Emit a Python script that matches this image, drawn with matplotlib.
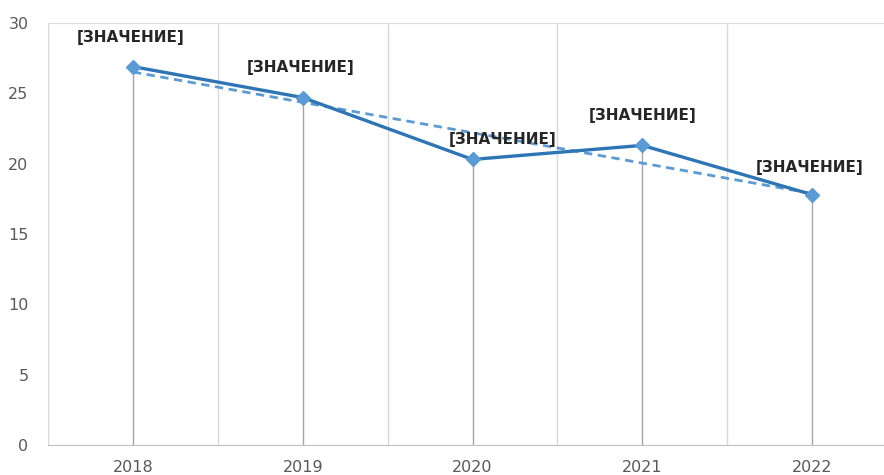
import numpy as np
import matplotlib.pyplot as plt

# Data
years = ['2018', '2019', '2020', '2021', '2022']
values = [26.9, 24.7, 20.3, 21.3, 17.8]
label_text = '[ЗНАЧЕНИЕ]'
# label offsets (pixels) relative to each point
label_dx = [-2, -2, 30, 0, -2]
label_dy = [29, 30, 20, 30, 27]

line_color = '#2E75B6'
marker_color = '#5B9BD5'
trend_color = '#5B9BD5'

fig = plt.figure(figsize=(8.84, 4.75), dpi=100)
ax = fig.add_axes([48 / 884, 30 / 475, (897 - 48) / 884, (445 - 23) / 475])

x = np.arange(len(years))

# vertical grid between categories
for b in np.arange(-0.5, len(years) - 1, 1.0):
    ax.axvline(b, color='#d9d9d9', lw=1.0, zorder=0)

# drop lines
ax.vlines(x, 0, values, color='#a6a6a6', lw=1.0, zorder=1)

# linear trendline
k, c = np.polyfit(x, values, 1)
ax.plot(x, k * x + c, ls=(0, (3, 2)), color=trend_color, lw=2.0, zorder=2)

ax.plot(x, values, color=line_color, lw=2.4, marker='D', ms=7.5,
        markerfacecolor=marker_color, markeredgecolor=marker_color, zorder=3)

for xi, yi, dx, dy in zip(x, values, label_dx, label_dy):
    ax.annotate(label_text, (xi, yi), xytext=(dx, dy), textcoords='offset pixels',
                ha='center', va='center', fontsize=11, fontweight='bold',
                color='#262626', zorder=4)

ax.set_xlim(-0.5, len(years) - 0.5)
ax.set_ylim(0, 30)
ax.set_yticks(np.arange(0, 31, 5))
ax.set_xticks(x)
ax.set_xticklabels(years)
ax.tick_params(axis='both', length=0, labelsize=11.5, colors='#595959')
ax.tick_params(axis='y', pad=14)
ax.tick_params(axis='x', pad=11)

ax.spines['right'].set_visible(False)
for side in ['top', 'left']:
    ax.spines[side].set_color('#d9d9d9')
ax.spines['bottom'].set_color('#bfbfbf')

fig.savefig('out.png', dpi=100)
